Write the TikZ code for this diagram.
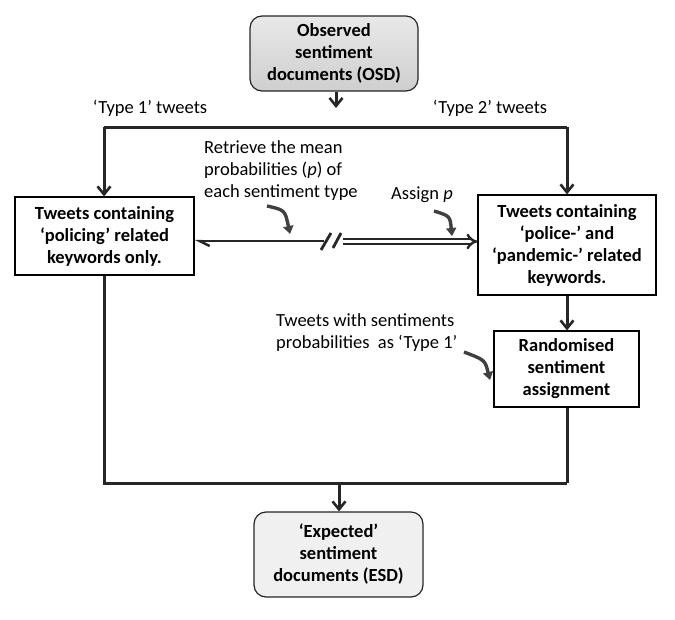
\documentclass[tikz,border=0pt]{standalone}
\usepackage{fontspec}
\setmainfont{Carlito}
\usetikzlibrary{arrows.meta}
\definecolor{linec}{HTML}{262626}
\definecolor{callc}{HTML}{404040}
\begin{document}
\begin{tikzpicture}[x=1pt,y=-1pt,
  font=\fontsize{18.5}{22}\selectfont,
  box/.style={draw=black, line width=1.2pt, align=center, inner sep=0pt, font=\fontsize{18.5}{22}\selectfont\bfseries},
  rbox/.style={box, rounded corners=12pt, draw=linec},
  conn/.style={draw=linec, line width=3pt},
  arr/.style={conn, -{Straight Barb[length=8pt,width=13pt,line width=2.6pt]}},
  call/.style={draw=callc, line width=3.4pt, -{Triangle[length=8pt,width=10pt]}},
  lbl/.style={inner sep=0pt, align=left}
]
\useasboundingbox (0,0) rectangle (675,619);

% nodes
\node[rbox, top color=gray!18, bottom color=gray!38, minimum width=168pt, minimum height=75pt] (osd) at (334,53.5)
  {Observed\\sentiment\\documents (OSD)};
\node[box, minimum width=179pt, minimum height=78pt] (lb) at (104.5,236)
  {Tweets containing\\‘policing’ related\\keywords only.};
\node[box, minimum width=178pt, minimum height=100pt] (rb) at (567,245)
  {Tweets containing\\‘police-’ and\\‘pandemic-’ related\\keywords.};
\node[box, minimum width=145pt, minimum height=76pt] (rand) at (566.5,369)
  {Randomised\\sentiment\\assignment};
\node[rbox, fill=gray!12, minimum width=169pt, minimum height=85pt] (esd) at (338.5,554.5)
  {‘Expected’\\sentiment\\documents (ESD)};

% labels
\node[lbl] (t1) at (150,108) {‘Type 1’ tweets};
\node[lbl] (t2) at (490,108) {‘Type 2’ tweets};
\node[lbl, anchor=west] (ret) at (204,171) {Retrieve the mean\\probabilities (\textit{p}) of\\each sentiment type};
\node[lbl] (asg) at (422,195) {Assign \textit{p}};
\node[lbl, anchor=west] (twp) at (276,333) {Tweets with sentiments\\probabilities\ \ as ‘Type 1’};

% coordinates
\coordinate (tl) at (104,127);
\coordinate (tr) at (567,127);
\coordinate (bl) at (104,483);
\coordinate (br) at (567,483);
\coordinate (bm) at (339,483);
\coordinate (osdtip) at (336,108);
\coordinate (brkL) at (324,241);
\coordinate (brkR) at (343,241.5);

% top split
\draw[conn] (tl) -- (tr);
\draw[conn] (osd.south -| osdtip) -- (osd.south -| osdtip |- tl);
\draw[arr] (osd.south -| osdtip) -- (osdtip);
\draw[arr] (tl) -- (lb.north -| tl);
\draw[arr] (tr) -- (rb.north -| tr);

% middle link
\draw[conn, line width=2.6pt, {Straight Barb[harpoon,length=10pt,width=10pt,line width=2.4pt]}-] ([yshift=-5pt]lb.east) -- (brkL);
\draw[conn, line width=2.8pt] (321,250) -- (331,233);
\draw[conn, line width=2.8pt] (333,248) -- (341,233);
\draw[draw=linec, line width=2.4pt, double=white, double distance=2.6pt, -{Implies[length=9pt]}] (brkR) -- ([yshift=3.5pt]rb.west);

% right column
\draw[arr] (rb.south -| tr) -- (rand.north -| tr);
\draw[conn] (rand.south -| br) -- (br);

% bottom merge
\draw[conn] (lb.south -| bl) -- (bl) -- (br);
\draw[arr] (bm) -- (esd.north -| bm);

% callout arrows
\draw[call] (267,206) .. controls (285,210) .. (290,234);
\draw[call] (434,211) .. controls (450,216) .. (452,236);
\draw[call] (464,352) .. controls (485,360) .. (490,380);
\end{tikzpicture}
\end{document}
